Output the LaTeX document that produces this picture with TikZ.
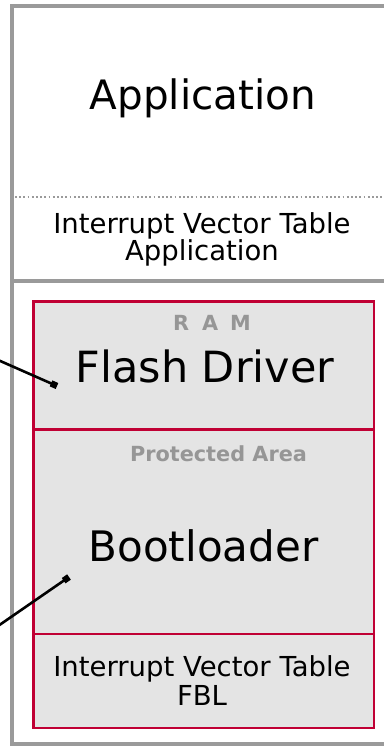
\documentclass[tikz,border=0pt]{standalone}
\usepackage{fontspec}
\setmainfont{DejaVu Sans}
\usetikzlibrary{arrows.meta}

\definecolor{framegray}{RGB}{154,154,154}
\definecolor{labelgray}{RGB}{150,150,150}
\definecolor{areafill}{RGB}{228,228,228}
\definecolor{areared}{RGB}{192,0,52}

\tikzset{
  frame/.style={draw=framegray, line width=4.5pt},
  area/.style={draw=areared, fill=areafill, line width=2.5pt},
  divider/.style={draw=areared, line width=2.5pt},
  bigtext/.style={anchor=base, font=\fontsize{42}{50}\selectfont},
  ivttext/.style={anchor=base, font=\fontsize{27.5}{32}\selectfont},
  tagtext/.style={anchor=base, text=labelgray, font=\bfseries\fontsize{20.8}{25}\selectfont},
  pointer/.style={draw=black, line width=2.6pt, -{Square[length=6.5pt,width=6.5pt]}}
}

\begin{document}
\begin{tikzpicture}[x=1pt, y=-1pt]
  \useasboundingbox (0,0) rectangle (383,746);
  \fill[white] (0,0) rectangle (383,746);

  % application block (upper flash section)
  \draw[frame] (390,6) -- (12,6) -- (12,281) -- (390,281);
  \draw[framegray, line width=1.8pt, dash pattern=on 1.8pt off 2.4pt] (15,197) -- (383,197);

  % boot section frame
  \draw[frame] (12,283) -- (12,744.5) -- (390,744.5);

  % red framed boot area with its three parts
  \path[area] (33.3,301.7) rectangle (374,728);
  \draw[divider] (33.3,429.7) -- (374,429.7);
  \draw[divider] (33.3,634) -- (374,634);

  % labels
  \node[bigtext, font=\fontsize{40.5}{48}\selectfont] (app) at (203,110) {Application};
  \node[ivttext] (ivtapp1) at (202,233) {Interrupt Vector Table};
  \node[ivttext] (ivtapp2) at (202,260) {Application};

  \node[tagtext] (ram) at (212,330) {R\hspace{13pt}A\hspace{12pt}M};
  \node[bigtext, font=\fontsize{43}{50}\selectfont] (flash) at (205,382) {Flash Driver};

  \node[tagtext] (prot) at (218.5,461) {Protected Area};
  \node[bigtext] (boot) at (203.5,561) {Bootloader};

  \node[ivttext] (ivtfbl1) at (202,676) {Interrupt Vector Table};
  \node[ivttext] (ivtfbl2) at (202,705) {FBL};

  % pointers coming in from the left
  \coordinate (ramfrom) at (-2,360);
  \coordinate (ramtip) at (57,386);
  \coordinate (bootfrom) at (-2,626);
  \coordinate (boottip) at (69,577);
  \draw[pointer] (ramfrom) -- (ramtip);
  \draw[pointer] (bootfrom) -- (boottip);
\end{tikzpicture}
\end{document}
